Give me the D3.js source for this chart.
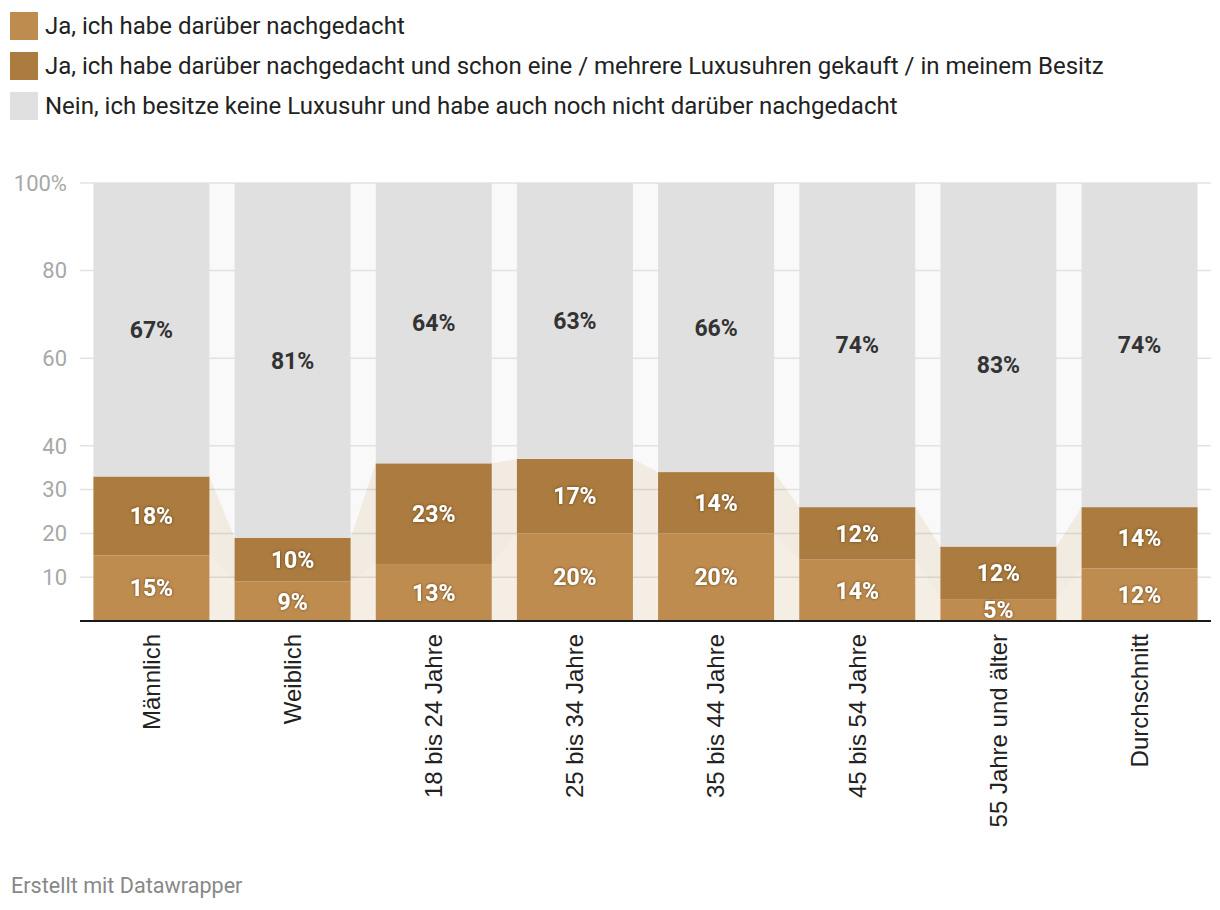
<!DOCTYPE html>
<html><head><meta charset="utf-8">
<script src="https://cdn.jsdelivr.net/npm/d3@7"></script>
<style>
body{margin:0;background:#fff;font-family:Roboto,"Noto Sans",sans-serif;}
</style></head><body>
<svg id="c" width="1220" height="910"></svg>
<script>
const categories = ["Männlich","Weiblich","18 bis 24 Jahre","25 bis 34 Jahre","35 bis 44 Jahre","45 bis 54 Jahre","55 Jahre und älter","Durchschnitt"];
const seriesNames = [
  "Ja, ich habe darüber nachgedacht",
  "Ja, ich habe darüber nachgedacht und schon eine / mehrere Luxusuhren gekauft / in meinem Besitz",
  "Nein, ich besitze keine Luxusuhr und habe auch noch nicht darüber nachgedacht"
];
const nachgedacht = [15, 9, 13, 20, 20, 14, 5, 12];
const gekauft = [18, 10, 23, 17, 14, 12, 12, 14];
const nein = [67, 81, 64, 63, 66, 74, 83, 74];
const yTicks = [10, 20, 30, 40, 60, 80, 100];
const colors = ["#bf8c50", "#ab7b3f", "#e0e0e0"];

const svg = d3.select("#c");
const y = d3.scaleLinear().domain([0, 100]).range([621, 183]);
const x = d3.scaleBand().domain(categories).range([80, 1211]).paddingInner(0.178).paddingOuter(0.095);

// legend
const leg = svg.append("g");
seriesNames.forEach((n, i) => {
  const g = leg.append("g").attr("transform", `translate(10,${12 + i * 40})`);
  g.append("rect").attr("width", 28).attr("height", 28).attr("fill", colors[i]);
  g.append("text").attr("x", 35).attr("y", 14).attr("dy", "0.35em")
    .attr("font-size", 24).attr("fill", "#222").text(n);
});

// stacked data
const rows = categories.map((c, i) => ({cat: c, a: nachgedacht[i], b: gekauft[i], c: nein[i]}));
const stack = d3.stack().keys(["a", "b", "c"])(rows);

// gridlines
svg.append("g").selectAll("line").data(yTicks).join("line")
  .attr("x1", 80).attr("x2", 1211).attr("y1", d => y(d)).attr("y2", d => y(d))
  .attr("stroke", "#e3e3e3").attr("stroke-width", 1.5);

// connectors
stack.forEach((layer, k) => {
  const polys = [];
  for (let i = 0; i < layer.length - 1; i++) {
    const xr = x(categories[i]) + x.bandwidth();
    const xl = x(categories[i + 1]);
    const p = layer[i], q = layer[i + 1];
    polys.push([[xr, y(p[1])], [xl, y(q[1])], [xl, y(q[0])], [xr, y(p[0])]]);
  }
  svg.append("g").selectAll("path").data(polys).join("path")
    .attr("d", d => "M" + d.join("L") + "Z")
    .attr("fill", colors[k]).attr("fill-opacity", k === 2 ? 0.18 : 0.15);
});

// tick labels
svg.append("g").selectAll("text").data(yTicks).join("text")
  .attr("x", 67).attr("y", d => y(d)).attr("dy", "0.35em").attr("text-anchor", "end")
  .attr("font-size", 22).attr("fill", "#a8a8a8")
  .text(d => d === 100 ? "100%" : d);

// bars
stack.forEach((layer, k) => {
  svg.append("g").selectAll("rect").data(layer).join("rect")
    .attr("x", d => x(d.data.cat)).attr("width", x.bandwidth())
    .attr("y", d => y(d[1])).attr("height", d => y(d[0]) - y(d[1]))
    .attr("fill", colors[k]);
});

// shadow filter
const defs = svg.append("defs");
const f = defs.append("filter").attr("id", "sh").attr("x", "-20%").attr("y", "-40%").attr("width", "140%").attr("height", "180%");
f.append("feDropShadow").attr("dx", 0).attr("dy", 0).attr("stdDeviation", 1.8).attr("flood-color", "#5a3a10").attr("flood-opacity", 0.9);

// value labels
stack.forEach((layer, k) => {
  svg.append("g").selectAll("text").data(layer).join("text")
    .attr("x", d => x(d.data.cat) + x.bandwidth() / 2)
    .attr("y", d => y((d[0] + d[1]) / 2)).attr("dy", "0.36em")
    .attr("text-anchor", "middle").attr("font-size", 23).attr("font-weight", 700)
    .attr("fill", k === 2 ? "#333" : "#fff")
    .attr("filter", k === 2 ? null : "url(#sh)")
    .text(d => (d[1] - d[0]) + "%");
});

// baseline
svg.append("line").attr("x1", 80).attr("x2", 1211).attr("y1", 621).attr("y2", 621)
  .attr("stroke", "#1a1a1a").attr("stroke-width", 2);

// x labels
svg.append("g").selectAll("text").data(categories).join("text")
  .attr("transform", d => `translate(${x(d) + x.bandwidth() / 2},634) rotate(-90)`)
  .attr("text-anchor", "end").attr("dy", "0.35em")
  .attr("font-family", "'Liberation Sans', Arial, sans-serif")
  .attr("font-size", 24).attr("fill", "#222").text(d => d);

// footer
svg.append("text").attr("x", 11).attr("y", 893).attr("font-size", 21.6).attr("fill", "#888")
  .text("Erstellt mit Datawrapper");
</script></body></html>
